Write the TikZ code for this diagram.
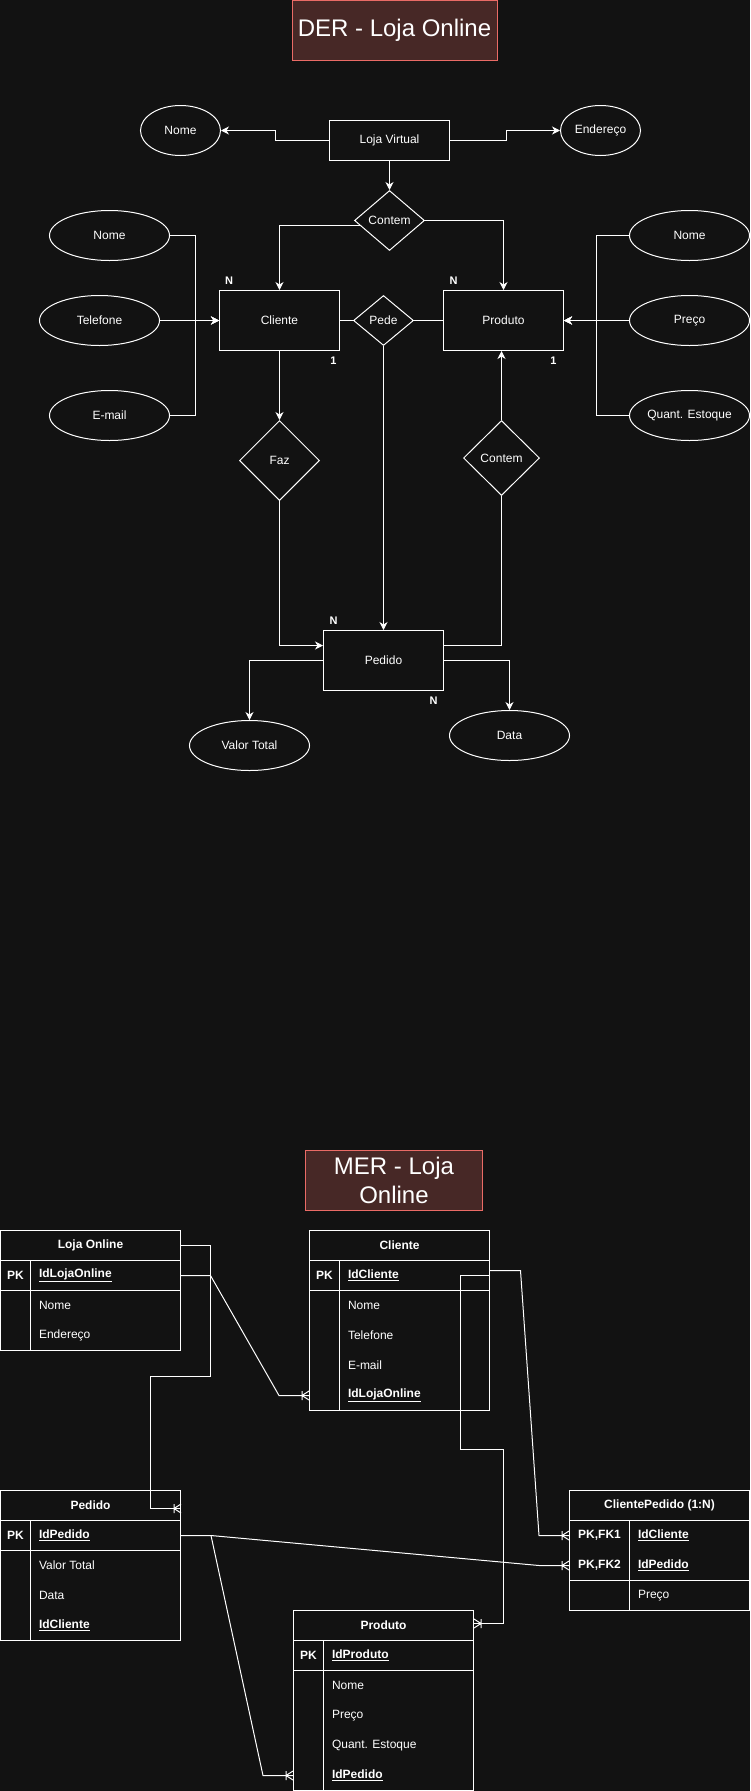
\documentclass[tikz,border=0pt]{standalone}
\usepackage{fontspec}
\setmainfont{Liberation Sans}
\usepackage{tikz}
\usetikzlibrary{shapes,arrows.meta,calc}

\definecolor{bgdark}{HTML}{121212}
\definecolor{titlefill}{HTML}{472826}
\definecolor{titleline}{HTML}{EA6B66}

\tikzset{
  ent/.style={draw, rectangle, minimum width=120, minimum height=60, inner sep=0},
  attr/.style={draw, ellipse, minimum width=120, minimum height=50, inner sep=0},
  rel/.style={draw, diamond, inner sep=0},
  card/.style={font=\bfseries\fontsize{11}{13}\selectfont, inner sep=0},
  arr/.style={-{Stealth[length=8pt,width=8pt,inset=2.5pt]}},
  titlebox/.style={draw=titleline, fill=titlefill, minimum height=60, inner sep=0,
    align=center, font=\fontsize{24}{28.8}\selectfont},
  tblhead/.style={draw, minimum width=180, minimum height=30, inner sep=0, font=\bfseries},
  tblrow/.style={draw, minimum width=180, minimum height=30, inner sep=0},
  keytxt/.style={font=\bfseries, inner sep=0},
  fldtxt/.style={anchor=west, inner sep=0},
  crowfoot/.pic={\draw (-7,-4.5) -- (-7,4.5) (0,-4.5) -- (-7,0) -- (0,4.5);}
}

\begin{document}
\begin{tikzpicture}[x=1pt, y=-1pt, line width=1pt, color=white]
\fontsize{12}{14.4}\selectfont
\fill[bgdark] (0,0) rectangle (750,1791);
\useasboundingbox (0,0) rectangle (750,1791);

% DER
\node[titlebox, minimum width=205] (der) at (394.5,30.5) {DER - Loja Online};

\node[ent, minimum height=40] (loja) at (389.5,140.5) {Loja Virtual};
\node[attr, minimum width=80] (lnome) at (180.5,130.5) {Nome};
\node[attr, minimum width=80] (lend) at (600.5,130.5) {Endereço};
\node[rel, minimum width=70, minimum height=60] (contem) at (389.5,220.5) {Contem};
\node[ent] (cliente) at (279.5,320.5) {Cliente};
\node[ent] (produto) at (503.5,320.5) {Produto};
\node[rel, minimum width=60, minimum height=50] (pede) at (383.5,320.5) {Pede};
\node[attr] (cnome) at (109.5,235.5) {Nome};
\node[attr] (ctel) at (99.5,320.5) {Telefone};
\node[attr] (cmail) at (109.5,415.5) {E-mail};
\node[attr] (pnome) at (689.5,235.5) {Nome};
\node[attr] (ppreco) at (689.5,320.5) {Preço};
\node[attr] (pqtd) at (689.5,415.5) {Quant. Estoque};
\node[rel, minimum width=80, minimum height=80] (faz) at (279.5,460.5) {Faz};
\node[rel, minimum width=76, minimum height=75] (contem2) at (501.5,458) {Contem};
\node[ent] (pedido) at (383.5,660.5) {Pedido};
\node[attr] (vtotal) at (249.5,745.5) {Valor Total};
\node[attr] (data) at (509.5,735.5) {Data};

\node[card] (cardcn) at (229,281) {N};
\node[card] (cardpn) at (453.5,281) {N};
\node[card] (cardc1) at (333.5,360.5) {1};
\node[card] (cardp1) at (553.5,360.5) {1};
\node[card] (cardpa) at (333.5,620.5) {N};
\node[card] (cardpb) at (433.5,700.5) {N};

\draw[arr] (loja.west) -- ++(-54,0) |- (lnome.east);
\draw[arr] (loja.east) -- ++(56,0) |- (lend.west);
\draw[arr] (loja.south) -- (contem.north);
\draw[arr] ($(contem.west)!0.17!(contem.south)$) -| (cliente.north);
\draw[arr] (contem.east) -| (produto.north);
\draw (cliente.east) -- (pede.west);
\draw (pede.east) -- (produto.west);
\draw[arr] (pede.south) -- (pedido.north);
\draw[arr] (cnome.east) -- ++(25,0) |- (cliente.west);
\draw[arr] (ctel.east) -- (cliente.west);
\draw[arr] (cmail.east) -- ++(25,0) |- (cliente.west);
\draw[arr] (pnome.west) -- ++(-33,0) |- (produto.east);
\draw[arr] (ppreco.west) -- (produto.east);
\draw[arr] (pqtd.west) -- ++(-33,0) |- (produto.east);
\draw[arr] (cliente.south) -- (faz.north);
\draw[arr] (faz.south) |- ([yshift=15pt]pedido.west);
\draw[arr] (contem2.north) -- (contem2.north |- produto.south);
\draw (contem2.south) |- ([yshift=15pt]pedido.east);
\draw[arr] (pedido.west) -| (vtotal.north);
\draw[arr] (pedido.east) -| (data.north);

% MER
\node[titlebox, minimum width=177] (mer) at (394,1180.5) {MER - Loja\\Online};

% Loja Online
\node[tblhead] (lo) at (90.5,1245.5) {Loja Online};
\node[tblrow] (lo-pk) at (90.5,1275.5) {};
\node[tblrow, minimum height=60] (lo-bd) at (90.5,1320.5) {};
\draw ([xshift=30pt]lo-pk.north west) -- ([xshift=30pt]lo-bd.south west);
\node[keytxt] (lo-k) at (15.5,1275.5) {PK};
\node[fldtxt, font=\bfseries] (lo-id) at (38.5,1275.5) {\underline{IdLojaOnline}};
\foreach \fname [count=\i] in {Nome,Endereço}
  \node[fldtxt] (lo-f\i) at (38.5,1275.5+30*\i) {\fname};

% Cliente
\node[tblhead] (cli) at (399.5,1245.5) {Cliente};
\node[tblrow] (cli-pk) at (399.5,1275.5) {};
\node[tblrow, minimum height=120] (cli-bd) at (399.5,1350.5) {};
\draw ([xshift=30pt]cli-pk.north west) -- ([xshift=30pt]cli-bd.south west);
\node[keytxt] (cli-k) at (324.5,1275.5) {PK};
\node[fldtxt, font=\bfseries] (cli-id) at (347.5,1275.5) {\underline{IdCliente}};
\foreach \fname [count=\i] in {Nome,Telefone,E-mail}
  \node[fldtxt] (cli-f\i) at (347.5,1275.5+30*\i) {\fname};
\node[fldtxt, font=\bfseries] (cli-f4) at (347.5,1395.5) {\underline{IdLojaOnline}};

% Pedido
\node[tblhead] (ped) at (90.5,1505.5) {Pedido};
\node[tblrow] (ped-pk) at (90.5,1535.5) {};
\node[tblrow, minimum height=90] (ped-bd) at (90.5,1595.5) {};
\draw ([xshift=30pt]ped-pk.north west) -- ([xshift=30pt]ped-bd.south west);
\node[keytxt] (ped-k) at (15.5,1535.5) {PK};
\node[fldtxt, font=\bfseries] (ped-id) at (38.5,1535.5) {\underline{IdPedido}};
\foreach \fname [count=\i] in {Valor Total,Data}
  \node[fldtxt] (ped-f\i) at (38.5,1535.5+30*\i) {\fname};
\node[fldtxt, font=\bfseries] (ped-f3) at (38.5,1625.5) {\underline{IdCliente}};

% ClientePedido
\node[tblhead] (cp) at (659.5,1505.5) {ClientePedido (1:N)};
\node[tblrow, minimum height=60] (cp-ky) at (659.5,1550.5) {};
\node[tblrow] (cp-bd) at (659.5,1595.5) {};
\draw ([xshift=60pt]cp-ky.north west) -- ([xshift=60pt]cp-bd.south west);
\node[keytxt] (cp-k1) at (599.5,1535.5) {PK,FK1};
\node[keytxt] (cp-k2) at (599.5,1565.5) {PK,FK2};
\node[fldtxt, font=\bfseries] (cp-id1) at (637.5,1535.5) {\underline{IdCliente}};
\node[fldtxt, font=\bfseries] (cp-id2) at (637.5,1565.5) {\underline{IdPedido}};
\node[fldtxt] (cp-f1) at (637.5,1595.5) {Preço};

% Produto
\node[tblhead] (prd) at (383.5,1625.5) {Produto};
\node[tblrow] (prd-pk) at (383.5,1655.5) {};
\node[tblrow, minimum height=120] (prd-bd) at (383.5,1730.5) {};
\draw ([xshift=30pt]prd-pk.north west) -- ([xshift=30pt]prd-bd.south west);
\node[keytxt] (prd-k) at (308.5,1655.5) {PK};
\node[fldtxt, font=\bfseries] (prd-id) at (331.5,1655.5) {\underline{IdProduto}};
\foreach \fname [count=\i] in {Nome,Preço,Quant. Estoque}
  \node[fldtxt] (prd-f\i) at (331.5,1655.5+30*\i) {\fname};
\node[fldtxt, font=\bfseries] (prd-f4) at (331.5,1775.5) {\underline{IdPedido}};

% ligacoes
\draw (lo-pk.east) -- ++(29.5,0) -- ($(cli-bd.west |- cli-f4)+(-30,0)$) -- (cli-bd.west |- cli-f4);
\pic at (cli-bd.west |- cli-f4) {crowfoot};
\draw (lo.east) -- ++(29,0) -- ++(0,131) -- ++(-60,0) |- ([yshift=-3pt]ped.east);
\pic at ([yshift=-3pt]ped.east) {crowfoot};
\draw ([yshift=5pt]cli-pk.east) -- ++(30.5,0) -- ($(cp-ky.west |- cp-k1)+(-30,0)$) -- (cp-ky.west |- cp-k1);
\pic at (cp-ky.west |- cp-k1) {crowfoot};
\draw (cli-pk.east) -- ++(-30,0) -- ++(0,173.5) -- ++(43,0) |- ([yshift=2pt]prd.east);
\pic[rotate=180] at ([yshift=2pt]prd.east) {crowfoot};
\draw (ped-pk.east) -- ++(30,0) coordinate (pedk) -- ($(cp-ky.west |- cp-k2)+(-30,0)$) -- (cp-ky.west |- cp-k2);
\pic at (cp-ky.west |- cp-k2) {crowfoot};
\draw (pedk) -- ($(prd-bd.west |- prd-f4)+(-30,0)$) -- (prd-bd.west |- prd-f4);
\pic at (prd-bd.west |- prd-f4) {crowfoot};
\end{tikzpicture}
\end{document}
